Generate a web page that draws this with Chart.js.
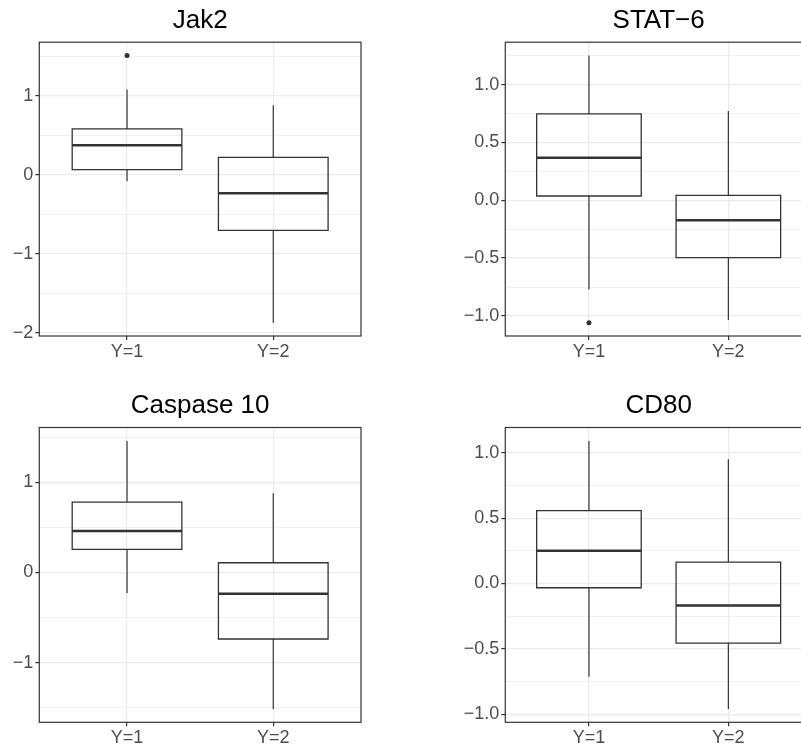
<!DOCTYPE html>
<html>
<head>
<meta charset="utf-8">
<script src="https://cdn.jsdelivr.net/npm/chart.js@4.4.0/dist/chart.umd.min.js"></script>
<style>
html, body { margin: 0; padding: 0; overflow: hidden; background: #ffffff; width: 801px; height: 749px; }
.panel { position: absolute; }
canvas { display: block; }
</style>
</head>
<body>
<div class="panel" style="left:0px;top:0px;"><canvas id="c1" width="400" height="370"></canvas></div>
<div class="panel" style="left:440px;top:0px;"><canvas id="c2" width="382" height="370"></canvas></div>
<div class="panel" style="left:0px;top:370px;"><canvas id="c3" width="400" height="379"></canvas></div>
<div class="panel" style="left:440px;top:370px;"><canvas id="c4" width="382" height="379"></canvas></div>
<script>
// ---------------- DATA ----------------
const categories = ['Y=1', 'Y=2'];
const categoryPositions = [1, 2];

// Jak2
const jak2Title = 'Jak2';
const jak2Low = [-0.084, -1.870];
const jak2Q1 = [0.063, -0.704];
const jak2Median = [0.373, -0.235];
const jak2Q3 = [0.579, 0.218];
const jak2High = [1.078, 0.877];
const jak2Outliers = [[1.506], []];
const jak2Ticks = [-2, -1, 0, 1];
const jak2TickLabels = ['\u22122', '\u22121', '0', '1'];
const jak2MinorTicks = [-1.5, -0.5, 0.5, 1.5];

// STAT-6
const stat6Title = 'STAT\u22126';
const stat6Low = [-0.771, -1.035];
const stat6Q1 = [0.037, -0.496];
const stat6Median = [0.367, -0.172];
const stat6Q3 = [0.746, 0.043];
const stat6High = [1.251, 0.772];
const stat6Outliers = [[-1.058], []];
const stat6Ticks = [-1, -0.5, 0, 0.5, 1];
const stat6TickLabels = ['\u22121.0', '\u22120.5', '0.0', '0.5', '1.0'];
const stat6MinorTicks = [-0.75, -0.25, 0.25, 0.75, 1.25];

// Caspase 10
const casp10Title = 'Caspase 10';
const casp10Low = [-0.228, -1.513];
const casp10Q1 = [0.255, -0.738];
const casp10Median = [0.458, -0.236];
const casp10Q3 = [0.780, 0.107];
const casp10High = [1.458, 0.879];
const casp10Outliers = [[], []];
const casp10Ticks = [-1, 0, 1];
const casp10TickLabels = ['\u22121', '0', '1'];
const casp10MinorTicks = [-1.5, -0.5, 0.5, 1.5];

// CD80
const cd80Title = 'CD80';
const cd80Low = [-0.713, -0.960];
const cd80Q1 = [-0.033, -0.456];
const cd80Median = [0.250, -0.168];
const cd80Q3 = [0.558, 0.164];
const cd80High = [1.091, 0.951];
const cd80Outliers = [[], []];
const cd80Ticks = [-1, -0.5, 0, 0.5, 1];
const cd80TickLabels = ['\u22121.0', '\u22120.5', '0.0', '0.5', '1.0'];
const cd80MinorTicks = [-0.75, -0.25, 0.25, 0.75];

// ---------------- STYLE ----------------
const FONT = "'Liberation Sans', Arial, Helvetica, sans-serif";
const INK = '#333333';
const GRID = '#EBEBEB';
const TICK_TEXT = '#4D4D4D';
const BOX_HALF = 0.375;

const panelBorder = {
  id: 'panelBorder',
  afterDatasetsDraw(chart) {
    const a = chart.chartArea;
    const ctx = chart.ctx;
    ctx.save();
    ctx.strokeStyle = INK;
    ctx.lineWidth = 1.2;
    ctx.strokeRect(a.left, a.top, a.right - a.left, a.bottom - a.top);
    ctx.restore();
  }
};

function lineSet(points, width) {
  return {
    type: 'scatter', data: points, showLine: true, pointRadius: 0, pointHoverRadius: 0,
    borderColor: INK, borderWidth: width, fill: false, tension: 0,
    borderJoinStyle: 'miter', borderCapStyle: 'butt'
  };
}

function makePanel(id, p, lay) {
  const datasets = [];
  categoryPositions.forEach((x, i) => {
    datasets.push(lineSet([
      {x: x - BOX_HALF, y: p.q1[i]}, {x: x + BOX_HALF, y: p.q1[i]},
      {x: x + BOX_HALF, y: p.q3[i]}, {x: x - BOX_HALF, y: p.q3[i]},
      {x: x - BOX_HALF, y: p.q1[i]}, {x: x + BOX_HALF, y: p.q1[i]}
    ], 1.3));
    datasets.push(lineSet([{x: x, y: p.q3[i]}, {x: x, y: p.high[i]}], 1.2));
    datasets.push(lineSet([{x: x, y: p.q1[i]}, {x: x, y: p.low[i]}], 1.2));
    datasets.push(lineSet([{x: x - BOX_HALF, y: p.median[i]}, {x: x + BOX_HALF, y: p.median[i]}], 2.5));
    if (p.outliers[i].length) {
      datasets.push({
        type: 'scatter', data: p.outliers[i].map(v => ({x: x, y: v})),
        pointRadius: 2.5, pointBackgroundColor: INK, pointBorderColor: INK, borderWidth: 0, showLine: false
      });
    }
  });
  const all = [].concat(p.low, p.high, ...p.outliers);
  const lo = Math.min(...all), hi = Math.max(...all);
  const pad = (hi - lo) * 0.05;
  const yTicks = p.ticks.concat(p.minor).sort((a, b) => a - b);
  const isMajor = v => p.ticks.some(t => Math.abs(t - v) < 1e-9);

  new Chart(document.getElementById(id), {
    type: 'scatter',
    data: { datasets },
    options: {
      responsive: false, animation: false, events: [],
      layout: { padding: lay.padding },
      plugins: {
        legend: { display: false }, tooltip: { enabled: false },
        title: {
          display: true, text: p.title, color: '#000000', fullSize: false,
          font: { family: FONT, size: 26, weight: 'normal', lineHeight: 1.2 },
          padding: { top: 5, bottom: 6 }
        }
      },
      scales: {
        x: {
          type: 'linear', min: 0.4, max: 2.6,
          afterBuildTicks: s => { s.ticks = categoryPositions.map(v => ({ value: v })); },
          afterFit: s => { s.height = lay.xHeight; },
          ticks: {
            autoSkip: false, maxRotation: 0, padding: 1, color: TICK_TEXT,
            font: { family: FONT, size: 18 },
            callback: (v, i) => categories[i]
          },
          grid: { color: GRID, lineWidth: 1.2, tickColor: INK, tickLength: 4, drawTicks: true },
          border: { display: false }
        },
        y: {
          type: 'linear', min: lo - pad, max: hi + pad,
          afterBuildTicks: s => { s.ticks = yTicks.map(v => ({ value: v })); },
          afterFit: s => { s.width = lay.yWidth; },
          ticks: {
            autoSkip: false, padding: 2, color: TICK_TEXT,
            font: { family: FONT, size: 18 },
            callback: (v) => { const k = p.ticks.findIndex(t => Math.abs(t - v) < 1e-9); return k >= 0 ? p.tickLabels[k] : ''; }
          },
          grid: {
            color: GRID,
            lineWidth: ctx => (ctx.tick && isMajor(ctx.tick.value)) ? 1.2 : 0.7,
            tickColor: ctx => (ctx.tick && isMajor(ctx.tick.value)) ? INK : 'rgba(0,0,0,0)',
            tickLength: 4, drawTicks: true
          },
          border: { display: false }
        }
      }
    },
    plugins: [panelBorder]
  });
}

makePanel('c1', { title: jak2Title, low: jak2Low, q1: jak2Q1, median: jak2Median, q3: jak2Q3, high: jak2High,
  outliers: jak2Outliers, ticks: jak2Ticks, tickLabels: jak2TickLabels, minor: jak2MinorTicks },
  { padding: { left: 0, right: 39, top: 0, bottom: 4 }, yWidth: 39.3, xHeight: 30 });
makePanel('c2', { title: stat6Title, low: stat6Low, q1: stat6Q1, median: stat6Median, q3: stat6Q3, high: stat6High,
  outliers: stat6Outliers, ticks: stat6Ticks, tickLabels: stat6TickLabels, minor: stat6MinorTicks },
  { padding: { left: 0, right: 10, top: 0, bottom: 4 }, yWidth: 65.3, xHeight: 30 });
makePanel('c3', { title: casp10Title, low: casp10Low, q1: casp10Q1, median: casp10Median, q3: casp10Q3, high: casp10High,
  outliers: casp10Outliers, ticks: casp10Ticks, tickLabels: casp10TickLabels, minor: casp10MinorTicks },
  { padding: { left: 0, right: 39, top: 15.3, bottom: 0 }, yWidth: 39.3, xHeight: 26.7 });
makePanel('c4', { title: cd80Title, low: cd80Low, q1: cd80Q1, median: cd80Median, q3: cd80Q3, high: cd80High,
  outliers: cd80Outliers, ticks: cd80Ticks, tickLabels: cd80TickLabels, minor: cd80MinorTicks },
  { padding: { left: 0, right: 10, top: 15.3, bottom: 0 }, yWidth: 65.3, xHeight: 26.7 });
</script>
</body>
</html>
